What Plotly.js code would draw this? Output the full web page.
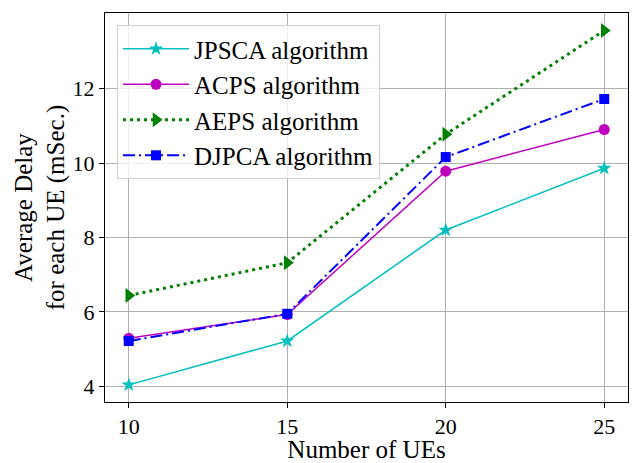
<!DOCTYPE html>
<html>
<head>
<meta charset="utf-8">
<script src="https://cdn.plot.ly/plotly-3.0.1.min.js"></script>
<style>html,body{margin:0;padding:0;background:#fff;}#chart{width:634px;height:463px;}</style>
</head>
<body>
<div id="chart"></div>
<script>
const numUEs = [10, 15, 20, 25];
const jpsca = [4.04, 5.22, 8.2, 9.86];
const acps = [5.29, 5.93, 9.78, 10.9];
const aeps = [6.44, 7.32, 10.77, 13.56];
const djpca = [5.22, 5.95, 10.16, 11.72];
const seriesNames = ['JPSCA algorithm', 'ACPS algorithm', 'AEPS algorithm', 'DJPCA algorithm'];
const xTicks = [10, 15, 20, 25];
const yTicks = [4, 6, 8, 10, 12];

const FONT = 'Liberation Serif';

const traces = [
  {x: numUEs, y: jpsca, name: seriesNames[0], legendgroup: 'a', mode: 'lines+markers',
   line: {color: '#00BFBF', width: 1.5}, marker: {symbol: 'star', size: 11, color: '#00BFBF'}},
  {x: numUEs, y: acps, name: seriesNames[1], legendgroup: 'b', mode: 'lines+markers',
   line: {color: '#BF00BF', width: 1.5}, marker: {symbol: 'circle', size: 11, color: '#BF00BF'}},
  {x: numUEs, y: aeps, name: seriesNames[2], legendgroup: 'c', mode: 'lines+markers',
   line: {color: '#008000', width: 3, dash: '3px,4px'}, marker: {symbol: 'triangle-right', size: 13, color: '#008000'}},
  {x: numUEs, y: djpca, name: seriesNames[3], legendgroup: 'd', mode: 'lines+markers',
   line: {color: '#0000FF', width: 2, dash: '12px,4px,2px,4px'}, marker: {symbol: 'square', size: 10, color: '#0000FF'}}
];

const layout = {
  width: 634, height: 463,
  margin: {l: 105, r: 6, t: 13, b: 61},
  paper_bgcolor: '#fff', plot_bgcolor: '#fff',
  font: {family: FONT, color: '#000', size: 22},
  showlegend: true,
  legend: {
    x: 0.023, y: 0.969, xanchor: 'left', yanchor: 'top',
    bgcolor: 'rgba(255,255,255,0.8)', bordercolor: '#d0d0d0', borderwidth: 1,
    font: {family: FONT, size: 25, color: '#000'},
    traceorder: 'grouped', tracegroupgap: 0, itemwidth: 66
  },
  xaxis: {
    range: [9.25, 25.75], tickvals: xTicks, ticktext: xTicks.map(String),
    showgrid: true, gridcolor: '#b0b0b0', gridwidth: 1,
    showline: true, linecolor: '#000', linewidth: 1, mirror: true,
    ticks: 'outside', ticklen: 5, tickcolor: '#000', zeroline: false,
    tickfont: {family: FONT, size: 22, color: '#000'},
    title: {text: 'Number of UEs', font: {family: FONT, size: 25, color: '#000'}, standoff: 6}
  },
  yaxis: {
    range: [3.58, 14.03], tickvals: yTicks, ticktext: yTicks.map(String),
    showgrid: true, gridcolor: '#b0b0b0', gridwidth: 1,
    showline: true, linecolor: '#000', linewidth: 1, mirror: true,
    ticks: 'outside', ticklen: 5, tickcolor: '#000', zeroline: false,
    tickfont: {family: FONT, size: 22, color: '#000'},
    title: {text: 'Average Delay<br>for each UE (mSec.)', font: {family: FONT, size: 25, color: '#000'}, standoff: 0}
  }
};

Plotly.newPlot('chart', traces, layout, {displayModeBar: false, staticPlot: true});
</script>
</body>
</html>
